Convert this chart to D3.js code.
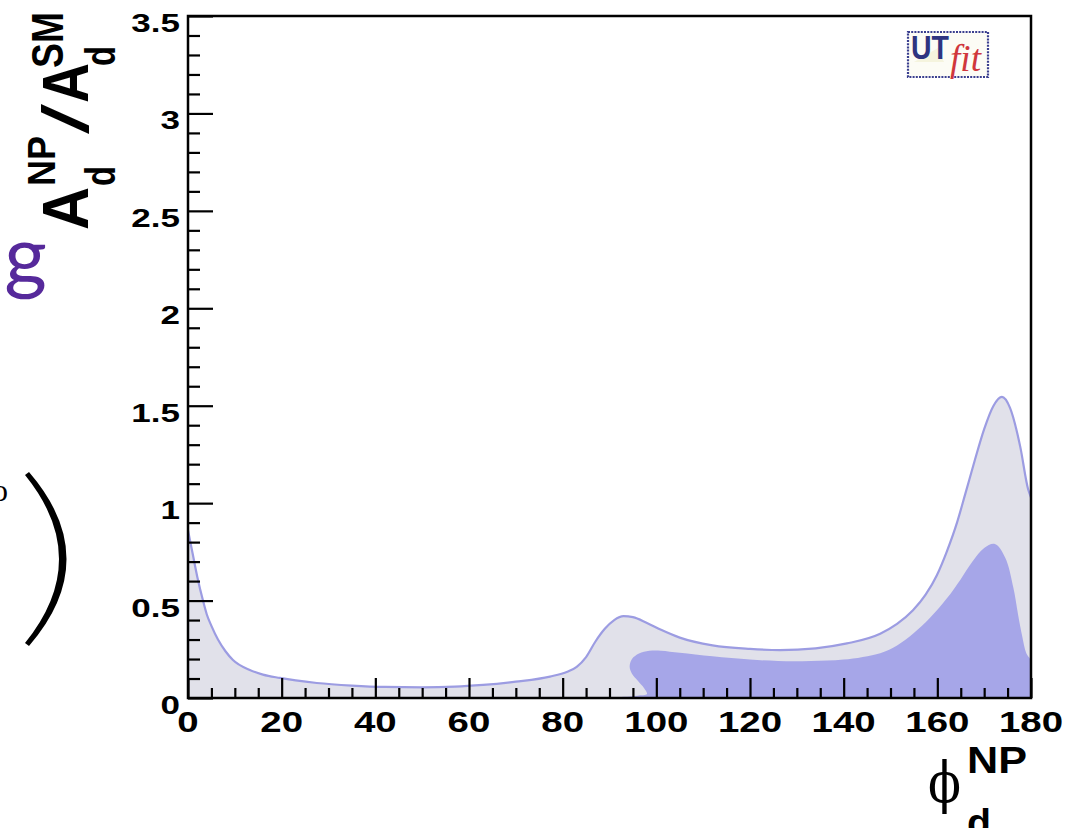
<!DOCTYPE html>
<html>
<head>
<meta charset="utf-8">
<script src="https://cdnjs.cloudflare.com/ajax/libs/d3/7.8.5/d3.min.js"></script>
<style>
body{margin:0;background:#fff;}
svg{display:block;}
text{font-family:"Liberation Sans",Arial,sans-serif;font-weight:bold;}
</style>
</head>
<body>
<svg width="1073" height="828"></svg>
<script>
// axis ticks
var xTicks = [0,20,40,60,80,100,120,140,160,180];
var xTickLabels = ['0','20','40','60','80','100','120','140','160','180'];
var yTicks = [0,0.5,1,1.5,2,2.5,3,3.5];
var yTickLabels = ['0','0.5','1','1.5','2','2.5','3','3.5'];

// outer (light) contour
var outerPhi = [0,1,2,3.2,4,5,6.4,8,9.6,13.2,16,19.6,23,27.5,35,42,50,57,63,70,77.3,81,83,85,87,89,91,93,95,98,101,105,112,120,126.4,134,140.7,147.8,151.4,154.8,157.5,159.9,162,164.2,166,168,170,172,173.8,175.5,177.7,179.4,180];
var outerVal = [0.86,0.74,0.62,0.50,0.43,0.37,0.30,0.24,0.195,0.144,0.12,0.103,0.09,0.077,0.064,0.057,0.055,0.058,0.067,0.084,0.11,0.135,0.16,0.21,0.29,0.355,0.40,0.42,0.415,0.385,0.35,0.31,0.27,0.252,0.246,0.255,0.28,0.33,0.38,0.45,0.53,0.63,0.75,0.90,1.05,1.22,1.38,1.50,1.545,1.49,1.29,1.07,1.03];

// inner (dark) contour, closed along the axis
var innerPhi = [89.5,93,96,98,97.4,96,94.8,94.3,94.8,96.3,98.5,101,105,112,120,126,133,140,147.8,151.4,154.8,158.4,162,165,167.5,170,172.3,174.5,176.2,177.3,178.1,179,180,180];
var innerVal = [0,0.006,0.012,0.02,0.05,0.09,0.125,0.16,0.2,0.228,0.242,0.243,0.232,0.214,0.197,0.19,0.19,0.197,0.23,0.27,0.33,0.41,0.51,0.61,0.70,0.77,0.79,0.72,0.57,0.42,0.32,0.23,0.19,0];

var svg = d3.select('svg');
var x = d3.scaleLinear().domain([0,180]).range([188,1031]);
var y = d3.scaleLinear().domain([0,3.5]).range([698,16]);

function stretch(sel,k){
  sel.each(function(){
    var w = this.getComputedTextLength();
    d3.select(this).attr('textLength',w*k).attr('lengthAdjust','spacingAndGlyphs');
  });
}

// bits of the slide behind the plot
svg.append('text').attr('x',47).attr('y',284).attr('text-anchor','end')
  .style('font-family','Lato,sans-serif').style('font-weight','normal')
  .attr('font-size',82).attr('fill','#56299b').text('ng');
svg.append('text').attr('x',-8).attr('y',501)
  .style('font-family','"Liberation Serif",serif').style('font-weight','normal')
  .attr('font-size',32).attr('fill','#000').text('o');
svg.append('path')
  .attr('d','M29,472 Q104,559 29,646 L25,643 Q93,559 25,475 Z')
  .attr('fill','#000');

svg.append('clipPath').attr('id','plotclip').append('rect')
  .attr('x',x(0)).attr('y',y(3.5)).attr('width',x(180)-x(0)).attr('height',y(0)-y(3.5));

var pts = outerPhi.map(function(p,i){return [p,outerVal[i]];});
var ipts = innerPhi.map(function(p,i){return [p,innerVal[i]];});

var g = svg.append('g').attr('clip-path','url(#plotclip)');
var area = d3.area().x(function(d){return x(d[0]);}).y0(y(0)).y1(function(d){return y(d[1]);}).curve(d3.curveMonotoneX);
var line = d3.line().x(function(d){return x(d[0]);}).y(function(d){return y(d[1]);}).curve(d3.curveMonotoneX);
var cline = d3.line().x(function(d){return x(d[0]);}).y(function(d){return y(d[1]);}).curve(d3.curveCatmullRom.alpha(0.5));

g.append('path').datum(pts).attr('d',area).attr('fill','#e1e1ea');
g.append('path').datum(ipts).attr('d',function(d){return cline(d)+'Z';}).attr('fill','#a6a6e8');
g.append('path').datum(pts).attr('d',line).attr('fill','none').attr('stroke','#9c9ce2').attr('stroke-width',2.2);

// frame
svg.append('rect').attr('x',x(0)).attr('y',y(3.5)).attr('width',x(180)-x(0)).attr('height',y(0)-y(3.5))
  .attr('fill','none').attr('stroke','#000').attr('stroke-width',2.5);

// ticks (inside)
var xMinor = d3.range(0,181,5).filter(function(v){return v%20!=0;});
var yMinor = d3.range(0,36).map(function(i){return i/10;}).filter(function(v,i){return i%5!=0;});

var xa = svg.append('g').attr('transform','translate(0,'+y(0)+')');
xa.call(d3.axisBottom(x).tickValues(xMinor).tickSize(-10).tickSizeOuter(0).tickFormat(''));
xa.select('.domain').remove();
var xb = svg.append('g').attr('transform','translate(0,'+y(0)+')');
xb.call(d3.axisBottom(x).tickValues(xTicks).tickSize(-20).tickSizeOuter(0).tickFormat(''));
xb.select('.domain').remove();
var ya = svg.append('g').attr('transform','translate('+x(0)+',0)');
ya.call(d3.axisLeft(y).tickValues(yMinor).tickSize(-12).tickSizeOuter(0).tickFormat(''));
ya.select('.domain').remove();
var yb = svg.append('g').attr('transform','translate('+x(0)+',0)');
yb.call(d3.axisLeft(y).tickValues(yTicks).tickSize(-25).tickSizeOuter(0).tickFormat(''));
yb.select('.domain').remove();
svg.selectAll('.tick line').attr('stroke','#000').attr('stroke-width',2.2);

// tick labels
var xl = svg.selectAll('.xlab').data(xTicks).enter().append('text')
  .attr('x',function(d){return x(d);}).attr('y',732).attr('text-anchor','middle')
  .attr('font-size',30).attr('fill','#000').text(function(d,i){return xTickLabels[i];});
stretch(xl,1.28);
var yl = svg.selectAll('.ylab').data(yTicks).enter().append('text')
  .attr('x',180).attr('y',function(d){return y(d)+16;}).attr('text-anchor','end')
  .attr('font-size',25).attr('fill','#000').text(function(d,i){return yTickLabels[i];});
stretch(yl,1.4);

// y title
var yt = svg.append('g').attr('transform','translate(88,230) rotate(-90)');
yt.append('text').attr('x',0).attr('y',0).attr('font-size',64).attr('textLength',43).attr('lengthAdjust','spacingAndGlyphs').text('A');
yt.append('text').attr('x',44).attr('y',27).attr('font-size',42).attr('textLength',20).attr('lengthAdjust','spacingAndGlyphs').text('d');
yt.append('text').attr('x',44).attr('y',-33).attr('font-size',38).attr('textLength',50).attr('lengthAdjust','spacingAndGlyphs').text('NP');
yt.append('text').attr('x',96).attr('y',0).attr('font-size',64).style('font-weight','normal').attr('textLength',30).attr('lengthAdjust','spacingAndGlyphs').text('/');
yt.append('text').attr('x',127).attr('y',0).attr('font-size',64).attr('textLength',40).attr('lengthAdjust','spacingAndGlyphs').text('A');
yt.append('text').attr('x',164).attr('y',27).attr('font-size',42).attr('textLength',20).attr('lengthAdjust','spacingAndGlyphs').text('d');
yt.append('text').attr('x',162).attr('y',-25).attr('font-size',44).attr('textLength',56).attr('lengthAdjust','spacingAndGlyphs').text('SM');

// x title
svg.append('text').attr('x',928).attr('y',802).style('font-family','"DejaVu Serif",serif').style('font-weight','normal')
  .attr('font-size',56).attr('textLength',33).attr('lengthAdjust','spacingAndGlyphs').attr('fill','#000').text('ϕ');
svg.append('text').attr('x',967).attr('y',773).attr('font-size',36).attr('textLength',60).attr('lengthAdjust','spacingAndGlyphs').text('NP');
svg.append('text').attr('x',967).attr('y',836).attr('font-size',38).attr('textLength',24).attr('lengthAdjust','spacingAndGlyphs').text('d');

// UTfit logo
var lg = svg.append('g');
lg.append('rect').attr('x',908).attr('y',32).attr('width',80).attr('height',45)
  .attr('fill','#fcfcf5').attr('stroke','#3a3f8f').attr('stroke-width',2.2).attr('stroke-dasharray','2,1.2');
lg.append('path').attr('d','M914,62 L938,48 L944,62 Z').attr('fill','#f3f1d8').attr('opacity',0.8);
lg.append('text').attr('x',911).attr('y',59).attr('font-size',33).attr('fill','#2e3480')
  .attr('textLength',38).attr('lengthAdjust','spacingAndGlyphs').text('UT');
lg.append('text').attr('x',950).attr('y',71).attr('font-size',37).attr('fill','#d0373c')
  .style('font-family','"Liberation Serif",serif').style('font-weight','normal').style('font-style','italic')
  .attr('textLength',31).attr('lengthAdjust','spacingAndGlyphs').text('fit');
</script>
</body>
</html>
